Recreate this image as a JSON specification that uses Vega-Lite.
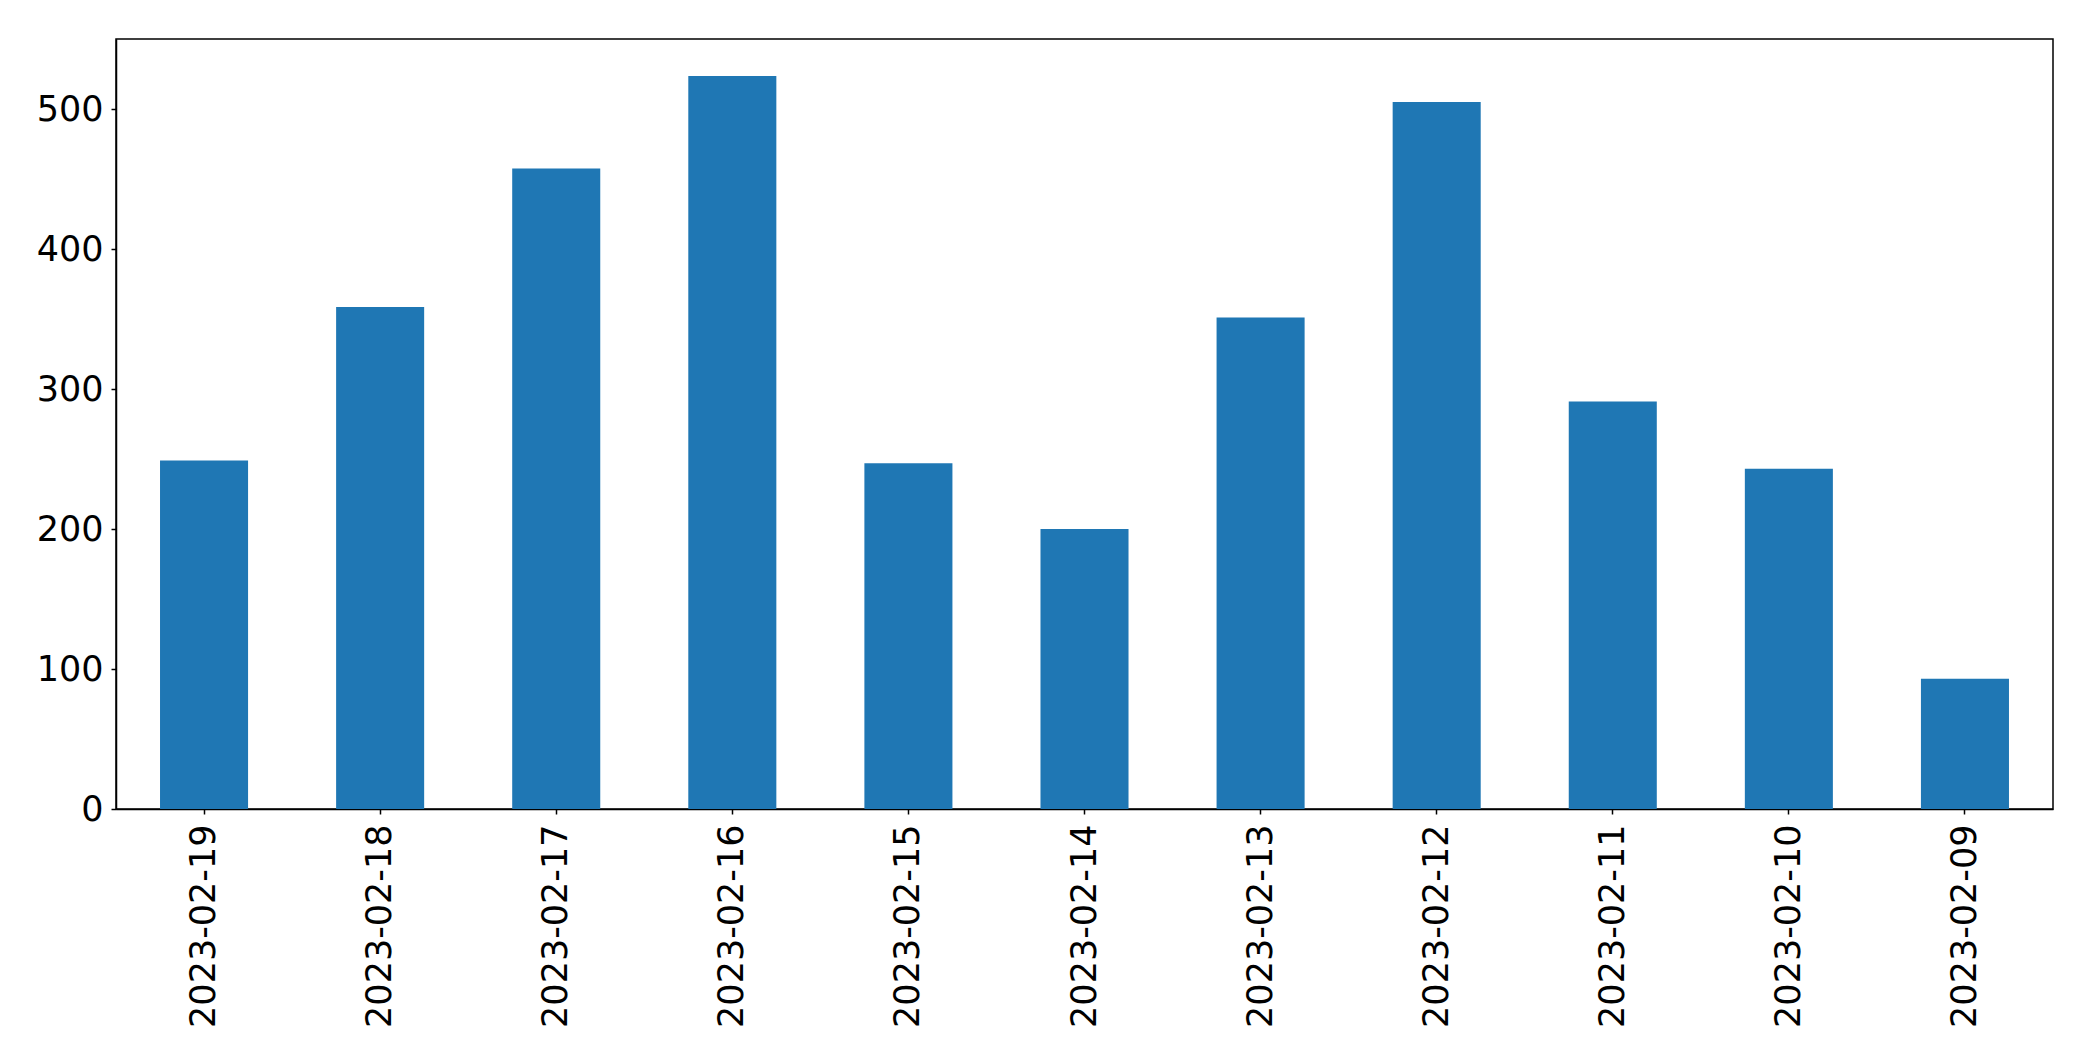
{
  "$schema": "https://vega.github.io/schema/vega-lite/v6.json",
  "autosize": "none",
  "width": 1937,
  "height": 770,
  "padding": {"left": 116, "top": 39, "right": 40, "bottom": 252},
  "background": "white",
  "config": {
    "view": {"stroke": "black", "strokeWidth": 1.5},
    "font": "DejaVu Sans",
    "axis": {"grid": false, "domainColor": "black", "tickColor": "black", "labelColor": "black", "labelFont": "DejaVu Sans", "labelFontSize": 35, "labelLimit": 0, "tickSize": 5, "tickWidth": 1.5, "domainWidth": 1.5}
  },
  "data": {"values": [
    {"date": "2023-02-19", "count": 249},
    {"date": "2023-02-18", "count": 358.5},
    {"date": "2023-02-17", "count": 457.5},
    {"date": "2023-02-16", "count": 523.5},
    {"date": "2023-02-15", "count": 247},
    {"date": "2023-02-14", "count": 200},
    {"date": "2023-02-13", "count": 351},
    {"date": "2023-02-12", "count": 505},
    {"date": "2023-02-11", "count": 291},
    {"date": "2023-02-10", "count": 243},
    {"date": "2023-02-09", "count": 93}
  ]},
  "mark": {"type": "bar", "color": "#1f77b4"},
  "encoding": {
    "x": {"field": "date", "type": "nominal", "sort": null, "title": null,
      "scale": {"paddingInner": 0.5, "paddingOuter": 0.25},
      "axis": {"labelAngle": -90, "labelAlign": "right", "labelBaseline": "middle", "labelPadding": 10}},
    "y": {"field": "count", "type": "quantitative", "title": null,
      "scale": {"domain": [0, 550], "nice": false},
      "axis": {"values": [0, 100, 200, 300, 400, 500], "labelPadding": 8}}
  }
}
